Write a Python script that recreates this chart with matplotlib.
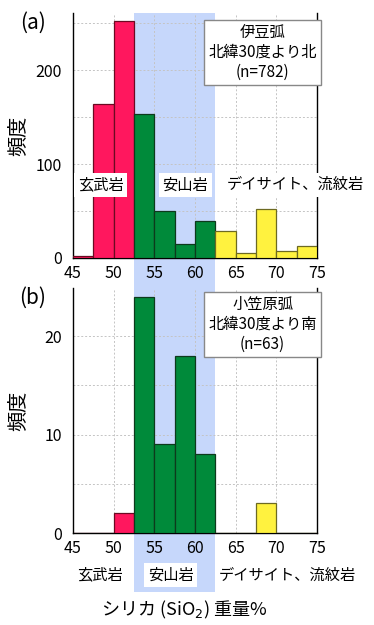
import matplotlib
matplotlib.use("Agg")
import matplotlib.pyplot as plt
import matplotlib.transforms as mtransforms
from matplotlib.patches import Rectangle

plt.rcParams['font.family'] = ['Noto Sans CJK JP', 'DejaVu Sans']

# bin edges (SiO2 wt%) and counts
bin_edges = [45, 47.5, 50, 52.5, 55, 57.5, 60, 62.5, 65, 67.5, 70, 72.5, 75]
counts_izu = [2, 164, 253, 153, 50, 15, 39, 29, 5, 52, 7, 13]
counts_ogasawara = [0, 0, 2, 24, 9, 18, 8, 0, 0, 3, 0, 0]

rock_names = ['玄武岩', '安山岩', 'デイサイト、流紋岩']
izu_box = ['伊豆弧', '北緯30度より北', '(n=782)']
oga_box = ['小笠原弧', '北緯30度より南', '(n=63)']

red = '#FF175E'
green = '#008A3A'
yellow = '#FFF23F'
band = '#C6D7FB'


def bar_colors(edges):
    fc, ec = [], []
    for left in edges[:-1]:
        if left < 52.5:
            fc.append(red); ec.append('#6b0a22')
        elif left < 62.5:
            fc.append(green); ec.append('#0d3a1c')
        else:
            fc.append(yellow); ec.append('#6d6a22')
    return fc, ec


W, H = 374, 625
fig = plt.figure(figsize=(W / 100, H / 100), dpi=100)
fig.patch.set_facecolor('white')

ax1 = fig.add_axes([73 / W, (H - 258) / H, 244 / W, 245 / H])
ax2 = fig.add_axes([73 / W, (H - 533) / H, 244 / W, 245 / H])

for ax, counts, ylim, major, minor in [(ax1, counts_izu, 261, 100, 50),
                                        (ax2, counts_ogasawara, 24.9, 10, 5)]:
    ax.set_facecolor('none')
    fc, ec = bar_colors(bin_edges)
    widths = [bin_edges[i + 1] - bin_edges[i] for i in range(len(counts))]
    ax.bar(bin_edges[:-1], counts, width=widths, align='edge',
           color=fc, edgecolor=ec, linewidth=0.9, zorder=3)
    ax.set_xlim(45, 75)
    ax.set_ylim(0, ylim)
    ax.set_xticks(range(45, 76, 5))
    ax.set_yticks(range(0, int(ylim) + 1, major))
    ax.set_yticks(range(0, int(ylim) + 1, minor), minor=True)
    ax.grid(True, which='both', color='#c4c4c4', linestyle=(0, (2, 2)),
            linewidth=0.7, zorder=0)
    ax.tick_params(which='both', length=0, labelsize=11.5)
    ax.tick_params(axis='x', pad=5)
    ax.tick_params(axis='y', pad=8)
    ax.spines['top'].set_visible(False)
    for s in ['left', 'right', 'bottom']:
        ax.spines[s].set_linewidth(1.0)
    ax.set_ylabel('頻度', fontsize=14.5)
    ax.yaxis.set_label_coords(-0.184, 0.5)

# andesite band across both panels
tr = mtransforms.blended_transform_factory(ax1.transData, fig.transFigure)
fig.patches.append(Rectangle((52.5, (H - 592) / H), 10, (592 - 13) / H,
                             transform=tr, facecolor=band, edgecolor='none',
                             zorder=-1, figure=fig))

# rock labels in panel (a)
box_white = dict(facecolor='white', edgecolor='none', pad=2.5)
for x, name in zip([48.4, 58.8, 72.4], rock_names):
    ax1.text(x, 78, name, ha='center', va='center', fontsize=11,
             bbox=box_white, zorder=6, clip_on=False)

# rock labels below panel (b)
trb = mtransforms.blended_transform_factory(ax2.transData, ax2.transAxes)
for x, name, bb in zip([48.3, 57.0, 71.3], rock_names, [None, box_white, None]):
    ax2.text(x, -0.171, name, transform=trb, ha='center', va='center',
             fontsize=11, bbox=bb, clip_on=False)

# info boxes
box_grey = dict(boxstyle='square,pad=0.3', facecolor='white',
                edgecolor='#888888', linewidth=1.0)
ax1.text(0.777, 0.839, '\n'.join(izu_box), transform=ax1.transAxes,
         ha='center', va='center', fontsize=11, linespacing=1.2,
         bbox=box_grey, zorder=7, clip_on=False)
ax2.text(0.777, 0.851, '\n'.join(oga_box), transform=ax2.transAxes,
         ha='center', va='center', fontsize=11, linespacing=1.2,
         bbox=box_grey, zorder=7, clip_on=False)

fig.text(33 / W, (H - 23) / H, '(a)', ha='center', va='center', fontsize=15)
fig.text(33 / W, (H - 298) / H, '(b)', ha='center', va='center', fontsize=15)

fig.text(184 / W, (H - 610) / H, 'シリカ (SiO$_2$) 重量%', ha='center',
         va='center', fontsize=13)

fig.savefig('out.png', dpi=100)
